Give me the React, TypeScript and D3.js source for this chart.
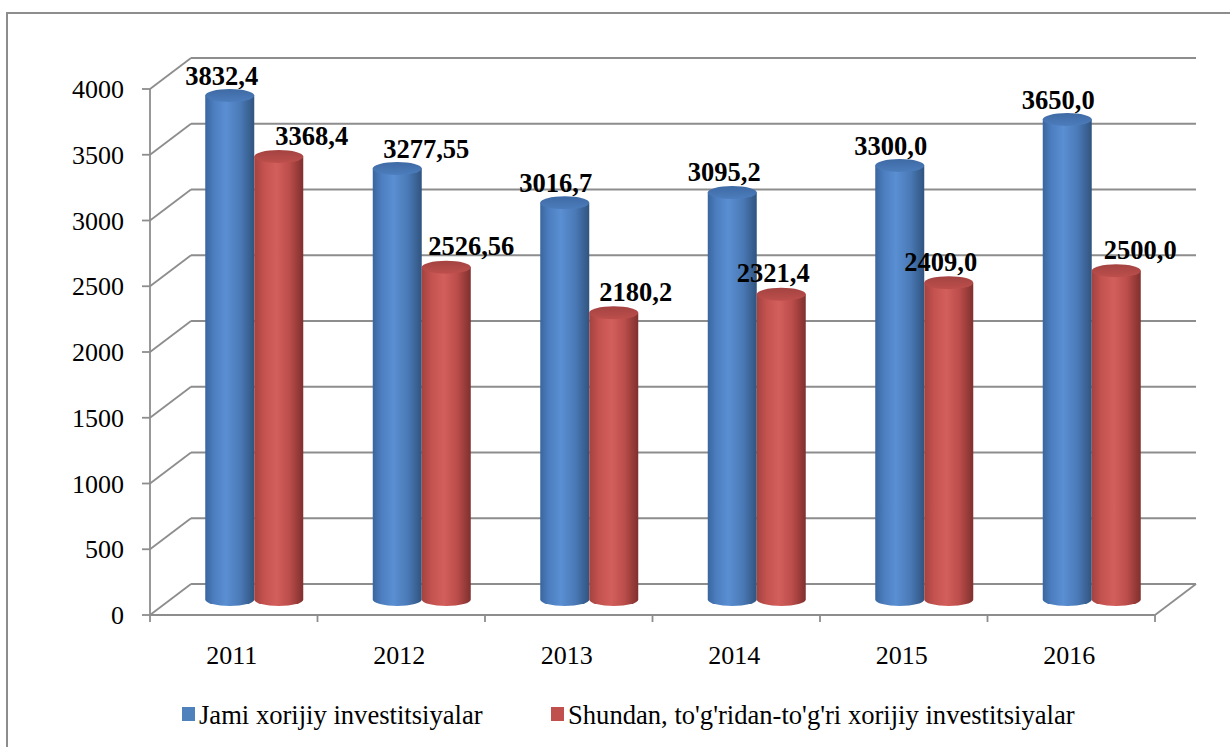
import React from 'react';
import * as d3 from 'd3';

const years = ['2011', '2012', '2013', '2014', '2015', '2016'];
const jami = [3832.4, 3277.55, 3016.7, 3095.2, 3300.0, 3650.0];
const shundan = [3368.4, 2526.56, 2180.2, 2321.4, 2409.0, 2500.0];
const jamiLabels = ['3832,4', '3277,55', '3016,7', '3095,2', '3300,0', '3650,0'];
const shundanLabels = ['3368,4', '2526,56', '2180,2', '2321,4', '2409,0', '2500,0'];
const yTicks = [0, 500, 1000, 1500, 2000, 2500, 3000, 3500, 4000];
const seriesNames = ['Jami xorijiy investitsiyalar', "Shundan, to'g'ridan-to'g'ri xorijiy investitsiyalar"];

// label nudges (excel had some of them dragged sideways)
const jamiNudge = [-8, 29, -9, -8, -9, -9];
const shundanNudge = [33, 25, 22, -8, -8, 24];

const W = 1230;
const H = 747;
const DX = 41; // depth offset
const DY = -31;
const grid = '#8d8d8d';
const font = '"Liberation Serif", "Times New Roman", serif';

const App = () => {
  const x = d3.scaleBand().domain(years).range([150, 1155]);
  const y = d3.scaleLinear().domain([0, 4000]).range([615, 89]);
  const sub = d3.scaleBand().domain(['a', 'b']).range([-49, 49]);
  const rx = sub.bandwidth() / 2;
  const ry = 6.5;
  const midY = (v) => y(v) + DY / 2;

  const cyl = (cx, v, key) => {
    const top = midY(v);
    const bot = midY(0);
    const l = cx - rx;
    const r = cx + rx;
    const body = `M${l},${top} L${l},${bot} A${rx},${ry} 0 0 0 ${r},${bot} L${r},${top} Z`;
    return (
      <g key={key}>
        <path d={body} fill={`url(#g-${key[0]})`} />
        <ellipse cx={cx} cy={top} rx={rx} ry={ry} fill={`url(#c-${key[0]})`} />
      </g>
    );
  };

  return (
    <svg width={W} height={H} style={{ position: 'absolute', left: 0, top: 0, background: '#fff' }}>
      <defs>
        <linearGradient id="g-a" x1="0" x2="1" y1="0" y2="0">
          <stop offset="0" stopColor="#3a669e" />
          <stop offset="0.18" stopColor="#4c7ec0" />
          <stop offset="0.42" stopColor="#5a8fd3" />
          <stop offset="0.72" stopColor="#4a79b6" />
          <stop offset="1" stopColor="#30547f" />
        </linearGradient>
        <linearGradient id="g-b" x1="0" x2="1" y1="0" y2="0">
          <stop offset="0" stopColor="#a24340" />
          <stop offset="0.2" stopColor="#c4524f" />
          <stop offset="0.45" stopColor="#d35f5c" />
          <stop offset="0.72" stopColor="#bb4d4a" />
          <stop offset="1" stopColor="#7f302e" />
        </linearGradient>
        <linearGradient id="c-a" x1="0" x2="0" y1="0" y2="1">
          <stop offset="0" stopColor="#3e6aa4" />
          <stop offset="1" stopColor="#4d7dbd" />
        </linearGradient>
        <linearGradient id="c-b" x1="0" x2="0" y1="0" y2="1">
          <stop offset="0" stopColor="#a34341" />
          <stop offset="1" stopColor="#bd4f4c" />
        </linearGradient>
      </defs>

      <rect x={7} y={13} width={W + 20} height={H + 20} fill="none" stroke={grid} strokeWidth={2} />

      {/* back wall + left wall gridlines */}
      <g stroke={grid} strokeWidth={1.8} fill="none">
        {yTicks.map((t) => (
          <g key={t}>
            <line x1={150} y1={y(t)} x2={150 + DX} y2={y(t) + DY} />
            <line x1={150 + DX} y1={y(t) + DY} x2={1155 + DX} y2={y(t) + DY} />
            <line x1={142} y1={y(t)} x2={150} y2={y(t)} />
          </g>
        ))}
        <line x1={150} y1={y(4000)} x2={150} y2={y(0)} />
        <line x1={150} y1={y(0)} x2={1155} y2={y(0)} />
        <line x1={1155} y1={y(0)} x2={1155 + DX} y2={y(0) + DY} />
        {years.map((yr) => (
          <line key={yr} x1={x(yr)} y1={y(0)} x2={x(yr)} y2={y(0) + 7} />
        ))}
        <line x1={1155} y1={y(0)} x2={1155} y2={y(0) + 7} />
      </g>

      {/* y labels */}
      <g fontFamily={font} fontSize={26} textAnchor="end">
        {yTicks.map((t) => (
          <text key={t} x={124} y={y(t) + 9}>{t}</text>
        ))}
      </g>

      {/* x labels */}
      <g fontFamily={font} fontSize={26} textAnchor="middle">
        {years.map((yr) => (
          <text key={yr} x={x(yr) + x.bandwidth() / 2 - 2} y={664}>{yr}</text>
        ))}
      </g>

      {/* cylinders */}
      {years.map((yr, i) => {
        const c = x(yr) + x.bandwidth() / 2 + DX / 2;
        const ca = c + sub('a') + rx;
        const cb = c + sub('b') + rx;
        return (
          <g key={yr}>
            {cyl(ca, jami[i], 'a' + i)}
            {cyl(cb, shundan[i], 'b' + i)}
          </g>
        );
      })}

      {/* value labels */}
      <g fontFamily={font} fontSize={26.5} fontWeight="bold" textAnchor="middle">
        {years.map((yr, i) => {
          const c = x(yr) + x.bandwidth() / 2 + DX / 2;
          const ca = c + sub('a') + rx;
          const cb = c + sub('b') + rx;
          return (
            <g key={yr}>
              <text x={ca + jamiNudge[i]} y={midY(jami[i]) - 11}>{jamiLabels[i]}</text>
              <text x={cb + shundanNudge[i]} y={midY(shundan[i]) - 12}>{shundanLabels[i]}</text>
            </g>
          );
        })}
      </g>

      {/* legend */}
      <g fontFamily={font} fontSize={26.6}>
        <rect x={182} y={707} width={13} height={14} fill="#4f81bd" />
        <text x={199} y={724}>{seriesNames[0]}</text>
        <rect x={551} y={707} width={13} height={14} fill="#c0504d" />
        <text x={568} y={724}>{seriesNames[1]}</text>
      </g>
    </svg>
  );
};

export default App;
